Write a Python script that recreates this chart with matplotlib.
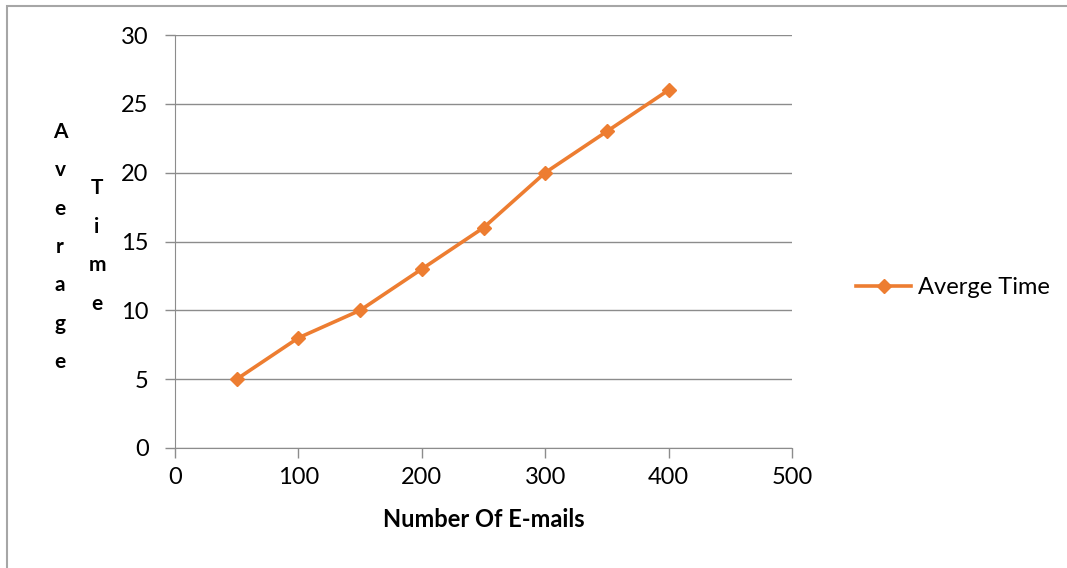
import matplotlib
matplotlib.use("agg")
import matplotlib.pyplot as plt
from matplotlib.patches import Rectangle

emails = [50, 100, 150, 200, 250, 300, 350, 400]
avg_time = [5, 8, 10, 13, 16, 20, 23, 26]
x_ticks = [0, 100, 200, 300, 400, 500]
y_ticks = [0, 5, 10, 15, 20, 25, 30]

plt.rcParams["font.family"] = ["Lato", "DejaVu Sans"]
grey = "#8c8c8c"
orange = "#ED7D31"

fig = plt.figure(figsize=(10.67, 5.68), dpi=100)
W, H = 1067, 568
ax = fig.add_axes([175 / W, 1 - 448 / H, (792 - 175) / W, (448 - 35) / H])

ax.plot(emails, avg_time, color=orange, linewidth=2.6, marker="D",
        markersize=7.5, label="Averge Time")

ax.set_xlim(0, 500)
ax.set_ylim(0, 30)
ax.set_xticks(x_ticks)
ax.set_yticks(y_ticks)
ax.yaxis.grid(True, color=grey, linewidth=1)
ax.set_axisbelow(True)
for side in ["top", "right"]:
    ax.spines[side].set_visible(False)
for side in ["left", "bottom"]:
    ax.spines[side].set_color(grey)
ax.tick_params(axis="both", direction="out", length=7, color=grey,
               labelsize=17, width=1)
ax.tick_params(axis="y", pad=12)
ax.tick_params(axis="x", pad=7)

ax.set_xlabel("Number Of E-mails", fontsize=17, fontweight="bold", labelpad=14)

# stacked letters for the vertical axis title
fig.text(60 / W, 1 - 247 / H, "\n".join("Average"), ha="center", va="center",
         fontsize=15, fontweight="bold", linespacing=2.15)
fig.text(97 / W, 1 - 246 / H, "\n".join("Time"), ha="center", va="center",
         fontsize=15, fontweight="bold", linespacing=2.15)

ax.legend(loc="center left", bbox_to_anchor=(1.07, (448 - 288) / 413),
          frameon=False, fontsize=17, handlelength=2.3, handletextpad=0.3)

# chart area border
fig.add_artist(Rectangle((7 / W, -0.1), 1.2, 1 - 6 / H + 0.1,
                         transform=fig.transFigure, fill=False,
                         edgecolor="#a6a6a6", linewidth=1.5))

plt.savefig("out.png", dpi=100)
